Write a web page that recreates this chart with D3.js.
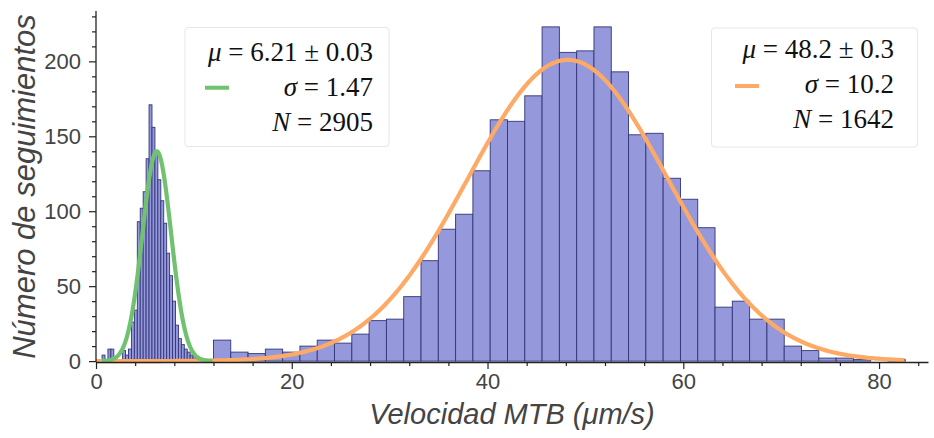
<!DOCTYPE html>
<html>
<head>
<meta charset="utf-8">
<script src="https://cdn.jsdelivr.net/npm/d3@7"></script>
<style>
  html, body { margin: 0; padding: 0; background: #fff; }
  svg { display: block; }
</style>
</head>
<body>
<svg id="chart" width="934" height="438"></svg>
<script>
// Slow population: narrow bins
const slowStart = 0.62;
const slowWidth = 0.3;
const slowCounts = [4, 0, 8, 8, 0, 0, 0, 7, 4, 8, 26, 34, 93, 102, 113, 135, 171, 156, 140, 121,
                    107, 92, 72, 57, 40, 24, 15, 11, 8, 6, 4, 4, 3, 2, 1, 1];

// Fast population: wide bins
const fastStart = 12.0;
const fastWidth = 1.767;
const fastCounts = [14, 6, 5, 8, 6, 10, 14, 12, 18, 27, 28, 43, 67, 88, 98, 127, 161, 160, 177, 223,
                    206, 207, 223, 193, 151, 152, 122, 108, 89, 36, 40, 28, 28, 10, 7, 2, 2, 1, 0, 1];

// Gaussian fits: [mu, sigma, peak height, x from, x to]
const slowFit = [6.21, 1.47, 140, 0.62, 11.9];
const fastFit = [48.2, 10.2, 201, 0.0, 82.6];

// Legend texts
const slowLegend = ["6.21 \u00b1 0.03", "1.47", "2905"];
const fastLegend = ["48.2 \u00b1 0.3", "10.2", "1642"];

const xMajor = [0, 20, 40, 60, 80];
const xMinor = d3.range(0, 85, 4).filter(v => v % 20 !== 0);
const yMajor = [0, 50, 100, 150, 200];
const yMinor = d3.range(0, 234, 10).filter(v => v % 50 !== 0);

const colSlow = "#70c170";
const colFast = "#fdaa66";
const barFill = "#9598db";
const barEdge = "#313678";
const ink = "#444444";

const svg = d3.select("#chart");
const mLeft = 96, mRight = 928, mTop = 11, mBottom = 362;

const x = d3.scaleLinear().domain([0, 85]).range([mLeft, mRight]);
const y = d3.scaleLinear().domain([-0.6, 233.6]).range([mBottom, mTop]);

// Histogram bars
function bars(start, width, counts, cls) {
  const data = counts.map((c, i) => ({ x0: start + i * width, x1: start + (i + 1) * width, c }))
                     .filter(d => d.c > 0);
  svg.append("g").attr("class", cls)
    .selectAll("rect").data(data).join("rect")
    .attr("x", d => x(d.x0))
    .attr("y", d => y(d.c))
    .attr("width", d => x(d.x1) - x(d.x0))
    .attr("height", d => y(0) - y(d.c))
    .attr("fill", barFill)
    .attr("stroke", barEdge)
    .attr("stroke-width", 0.9);
}
bars(fastStart, fastWidth, fastCounts, "fast-bars");
bars(slowStart, slowWidth, slowCounts, "slow-bars");

// Fitted curves
function curve(fit, color) {
  const [mu, sd, peak, a, b] = fit;
  const pts = d3.range(0, 401).map(i => {
    const xv = a + (b - a) * i / 400;
    return [xv, peak * Math.exp(-((xv - mu) ** 2) / (2 * sd * sd))];
  });
  svg.append("path")
    .attr("d", d3.line().x(d => x(d[0])).y(d => y(d[1]))(pts))
    .attr("fill", "none")
    .attr("stroke", color)
    .attr("stroke-width", 4.2)
    .attr("stroke-linecap", "butt");
}
curve(fastFit, colFast);
curve(slowFit, colSlow);

// Axes
const axisFont = "'Liberation Sans', Arial, sans-serif";
const gx = svg.append("g").attr("transform", `translate(0,${mBottom})`);
gx.call(d3.axisBottom(x).tickValues(xMajor).tickSize(7).tickPadding(4).tickSizeOuter(0));
gx.append("g").call(d3.axisBottom(x).tickValues(xMinor).tickSize(4).tickFormat("").tickSizeOuter(0))
  .select(".domain").remove();

const gy = svg.append("g").attr("transform", `translate(${mLeft},0)`);
gy.call(d3.axisLeft(y).tickValues(yMajor).tickSize(7).tickPadding(8).tickSizeOuter(0));
gy.append("g").call(d3.axisLeft(y).tickValues(yMinor).tickSize(4).tickFormat("").tickSizeOuter(0))
  .select(".domain").remove();

gy.select(".domain").attr("d", `M0,${mTop}V${mBottom}`);
svg.selectAll(".domain").attr("stroke", "#222").attr("stroke-width", 1.3);
svg.selectAll(".tick line").attr("stroke", "#222").attr("stroke-width", 1.2);
svg.selectAll(".tick text").attr("fill", ink).attr("font-family", axisFont).attr("font-size", 22);

// Axis titles
svg.append("text")
  .attr("x", (mLeft + mRight) / 2).attr("y", 424)
  .attr("text-anchor", "middle")
  .attr("font-family", axisFont).attr("font-style", "italic").attr("font-size", 29)
  .attr("fill", ink)
  .text("Velocidad MTB (\u03bcm/s)");

svg.append("text")
  .attr("transform", `translate(35,${(mTop + mBottom) / 2}) rotate(-90)`)
  .attr("text-anchor", "middle")
  .attr("font-family", axisFont).attr("font-style", "italic").attr("font-size", 31)
  .attr("fill", ink)
  .text("N\u00famero de seguimientos");

// Legend boxes
const serif = "'Liberation Serif', 'DejaVu Serif', serif";
function legend(bx, bw, by, bh, textRight, baselines, lineX, lineY, color, vals) {
  const g = svg.append("g");
  g.append("rect").attr("x", bx).attr("y", by).attr("width", bw).attr("height", bh)
    .attr("rx", 3).attr("fill", "#fff").attr("fill-opacity", 0.8)
    .attr("stroke", "#e6e6e6").attr("stroke-width", 1);
  g.append("line").attr("x1", lineX).attr("x2", lineX + 24).attr("y1", lineY).attr("y2", lineY)
    .attr("stroke", color).attr("stroke-width", 4);
  const labels = [["\u03bc", vals[0]], ["\u03c3", vals[1]], ["N", vals[2]]];
  labels.forEach((l, i) => {
    const t = g.append("text").attr("x", textRight).attr("y", baselines[i])
      .attr("text-anchor", "end").attr("font-family", serif).attr("font-size", 27)
      .attr("fill", "#111");
    t.append("tspan").attr("font-style", "italic").text(l[0]);
    t.append("tspan").text(" = " + l[1]);
  });
}
legend(185, 204, 27.5, 119, 373, [61, 96, 131], 205, 87.7, colSlow, slowLegend);
legend(711.5, 206, 28, 119, 894, [58, 93, 128], 735, 86, colFast, fastLegend);
</script>
</body>
</html>
